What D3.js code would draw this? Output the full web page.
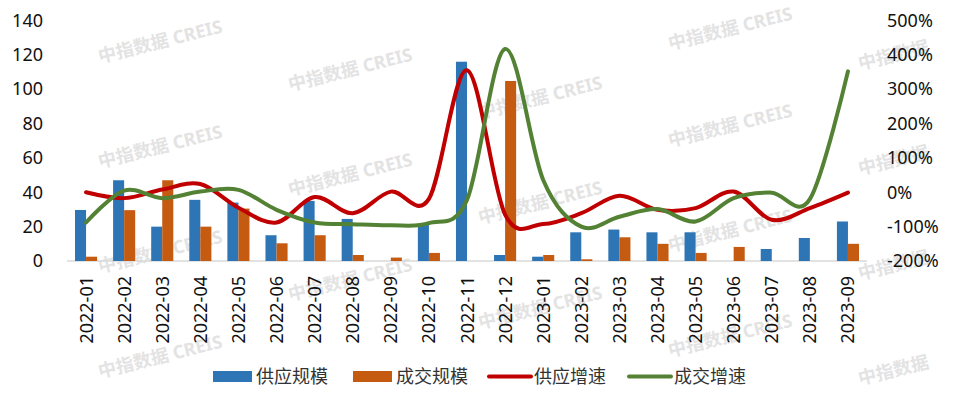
<!DOCTYPE html>
<html>
<head>
<meta charset="utf-8">
<script src="https://cdn.jsdelivr.net/npm/d3@7"></script>
<style>
  body { margin: 0; background: #fff; }
  svg { display: block; font-family: "Noto Sans", "Noto Sans CJK SC", sans-serif; }
</style>
</head>
<body>
<svg id="chart" width="956" height="396"></svg>
<script>
// ---------------------------------------------------------------------------
// DATA
// ---------------------------------------------------------------------------
const months = ['2022-01', '2022-02', '2022-03', '2022-04', '2022-05', '2022-06', '2022-07',
  '2022-08', '2022-09', '2022-10', '2022-11', '2022-12', '2023-01', '2023-02', '2023-03',
  '2023-04', '2023-05', '2023-06', '2023-07', '2023-08', '2023-09'];

// 供应规模 / 成交规模 (left axis)
const supply = [29.7, 47, 20, 35.6, 34, 15, 35, 24.5, 0, 21, 116, 3.5, 2.5, 16.7, 18.3,
  16.7, 16.7, 0, 7, 13.4, 23];
const deal = [2.5, 29.6, 47, 20, 30.5, 10.3, 15, 3.5, 2, 4.7, 0, 104.8, 3.5, 1, 13.8,
  10, 4.7, 8.2, 0, 0, 10];

// 供应增速 / 成交增速 in % (right axis)
const supplyGrowth = [0, -17, 8, 24, -45, -88, -14, -61, 2, -19, 355, -65, -92, -61, -10,
  -51, -46, 2, -80, -46, -1];
const dealGrowth = [-88, 5, -17, 2, 7, -51, -88, -93, -96, -90, -22, 417, 36, -100, -71,
  -49, -85, -17, -1, -20, 352];

const leftTicks = [0, 20, 40, 60, 80, 100, 120, 140];
const rightTicks = [-200, -100, 0, 100, 200, 300, 400, 500];

const legendItems = [
  { name: '供应规模', type: 'bar', color: '#2E75B6' },
  { name: '成交规模', type: 'bar', color: '#C55A11' },
  { name: '供应增速', type: 'line', color: '#C00000' },
  { name: '成交增速', type: 'line', color: '#548235' },
];

// ---------------------------------------------------------------------------
// SET UP
// ---------------------------------------------------------------------------
const svg = d3.select('#chart');
const plot = { left: 67, right: 867, top: 20.5, bottom: 261 };

const x = d3.scaleBand().domain(months).range([plot.left, plot.right]).padding(0);
const yLeft = d3.scaleLinear().domain([0, 140]).range([plot.bottom, plot.top]);
const yRight = d3.scaleLinear().domain([-200, 500]).range([plot.bottom, plot.top]);

const barW = x.bandwidth() * 0.29;
const mid = d => x(d) + x.bandwidth() / 2;

// watermark (tiled, light grey) - only the copies that sit inside the picture
const wm = svg.append('g').attr('class', 'watermark');
for (let i = 0; i < 5; i++) {
  for (let j = 0; j < 4; j++) {
    const wx = 100 + 190 * i;
    let wy = ((63 + 28 * i) % 105) + 105 * j;
    if (wy < 35 || wy > 392) continue;
    if (wy < 50) wy = 50; // keep the top copy inside the frame
    wm.append('text')
      .attr('transform', `translate(${wx},${wy}) rotate(-14)`)
      .attr('font-size', 18)
      .attr('font-weight', 'bold')
      .attr('fill', '#e3e3e3')
      .text(i === 4 ? '中指数据' : '中指数据  CREIS');
  }
}

// baseline
svg.append('line')
  .attr('x1', plot.left).attr('x2', plot.right)
  .attr('y1', plot.bottom).attr('y2', plot.bottom)
  .attr('stroke', '#d9d9d9').attr('stroke-width', 1.3);

// ---------------------------------------------------------------------------
// AXES
// ---------------------------------------------------------------------------
const axisL = svg.append('g')
  .attr('transform', `translate(${plot.left - 24},0)`)
  .call(d3.axisLeft(yLeft).tickValues(leftTicks).tickSize(0).tickPadding(0));
const axisR = svg.append('g')
  .attr('transform', `translate(${plot.right + 20},0)`)
  .call(d3.axisRight(yRight).tickValues(rightTicks).tickSize(0).tickPadding(0)
    .tickFormat(d => `${d}%`));
[axisL, axisR].forEach(a => {
  a.select('.domain').remove();
  a.selectAll('text').attr('font-size', 18).attr('fill', '#111')
    .attr('font-family', '"Noto Sans", sans-serif');
});

svg.append('g').selectAll('text')
  .data(months)
  .join('text')
  .attr('transform', d => `translate(${mid(d) + 6.5},276) rotate(-90)`)
  .attr('text-anchor', 'end')
  .attr('font-size', 18)
  .attr('fill', '#111')
  .text(d => d);

// ---------------------------------------------------------------------------
// BARS
// ---------------------------------------------------------------------------
svg.append('g').selectAll('rect')
  .data(months)
  .join('rect')
  .attr('x', d => mid(d) - barW)
  .attr('width', barW)
  .attr('y', (d, i) => yLeft(supply[i]))
  .attr('height', (d, i) => yLeft(0) - yLeft(supply[i]))
  .attr('fill', legendItems[0].color);

svg.append('g').selectAll('rect')
  .data(months)
  .join('rect')
  .attr('x', d => mid(d))
  .attr('width', barW)
  .attr('y', (d, i) => yLeft(deal[i]))
  .attr('height', (d, i) => yLeft(0) - yLeft(deal[i]))
  .attr('fill', legendItems[1].color);

// ---------------------------------------------------------------------------
// LINES (smoothed like the spreadsheet)
// ---------------------------------------------------------------------------
const line = d3.line()
  .x(d => mid(d[0]))
  .y(d => yRight(d[1]))
  .curve(d3.curveCardinal.tension(0));

[[supplyGrowth, legendItems[2].color], [dealGrowth, legendItems[3].color]].forEach(([vals, color]) => {
  svg.append('path')
    .datum(months.map((m, i) => [m, vals[i]]))
    .attr('d', line)
    .attr('fill', 'none')
    .attr('stroke', color)
    .attr('stroke-width', 4)
    .attr('stroke-linejoin', 'round')
    .attr('stroke-linecap', 'round');
});

// ---------------------------------------------------------------------------
// LEGEND
// ---------------------------------------------------------------------------
const legendX = [213, 353, 489, 629];
const legend = svg.append('g').selectAll('g')
  .data(legendItems)
  .join('g')
  .attr('transform', (d, i) => `translate(${legendX[i]},376.5)`);

legend.filter(d => d.type === 'bar').append('rect')
  .attr('x', 0).attr('y', -5.5).attr('width', 39).attr('height', 11)
  .attr('fill', d => d.color);
legend.filter(d => d.type === 'line').append('line')
  .attr('x1', 0).attr('x2', 42).attr('y1', 0).attr('y2', 0)
  .attr('stroke', d => d.color).attr('stroke-width', 4)
  .attr('stroke-linecap', 'round');
legend.append('text')
  .attr('x', d => (d.type === 'bar' ? 43 : 45))
  .attr('y', 0)
  .attr('dy', '0.36em')
  .attr('font-size', 18)
  .attr('fill', '#333')
  .attr('font-family', '"Noto Sans CJK SC", sans-serif')
  .text(d => d.name);
</script>
</body>
</html>
